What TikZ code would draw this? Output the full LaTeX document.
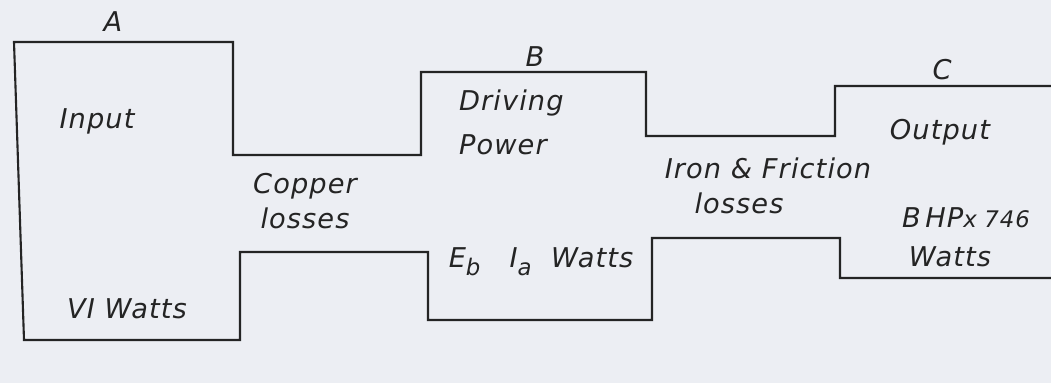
\documentclass[tikz,border=0pt]{standalone}
\usepackage{fontspec}
\setmainfont[LetterSpace=4]{DejaVu Sans}
\usetikzlibrary{positioning}
\definecolor{ink}{HTML}{242424}
\definecolor{paper}{HTML}{ECEEF3}
\newcommand{\subl}[1]{\raisebox{-0.55ex}{\fontsize{13}{13}\selectfont #1}}

\begin{document}
\begin{tikzpicture}[x=0.02cm, y=-0.02cm, every node/.style={font=\fontsize{15.5}{18}\selectfont\itshape, text=ink, inner sep=1pt}]
\fill[paper] (0,0) rectangle (1051,383);
\useasboundingbox (0,0) rectangle (1051,383);
% outline of the power flow
\draw[ink, line width=1.2pt] (1051,86) -- (835,86) -- (835,136) -- (646,136) -- (646,72) -- (421,72) -- (421,155)
  -- (233,155) -- (233,42) -- (14,42) -- (24,340) -- (240,340) -- (240,252) -- (428,252) -- (428,320)
  -- (652,320) -- (652,238) -- (840,238) -- (840,278) -- (1051,278);
% stage letters
\foreach \n/\x/\y/\t in {a/113/22/A, b/535/57/B, c/942/70/C}
  \node (\n) at (\x,\y) {\t};
% labels
\foreach \n/\x/\y/\t in {input/97/121/{Input}, viwatts/127/309/{VI Watts}, copper/305/186/{Copper},
    closs/305/218/{losses}, output/940/132/{Output}, iron/768/168/{Iron \& Friction},
    iloss/739/203/{losses}, bhp/966/218/{B\,HP{\fontsize{13}{13}\selectfont x\,\,746}}, owatts/950/257/{Watts},
    ebia/541/262/{E\subl{b}\ \ \ I\subl{a}\ \ Watts}}
  \node (\n) at (\x,\y) {\t};
\node[anchor=west] (driving) at (457,103) {Driving};
\node[anchor=west] (power) at (457,145) {Power};
\end{tikzpicture}
\end{document}
